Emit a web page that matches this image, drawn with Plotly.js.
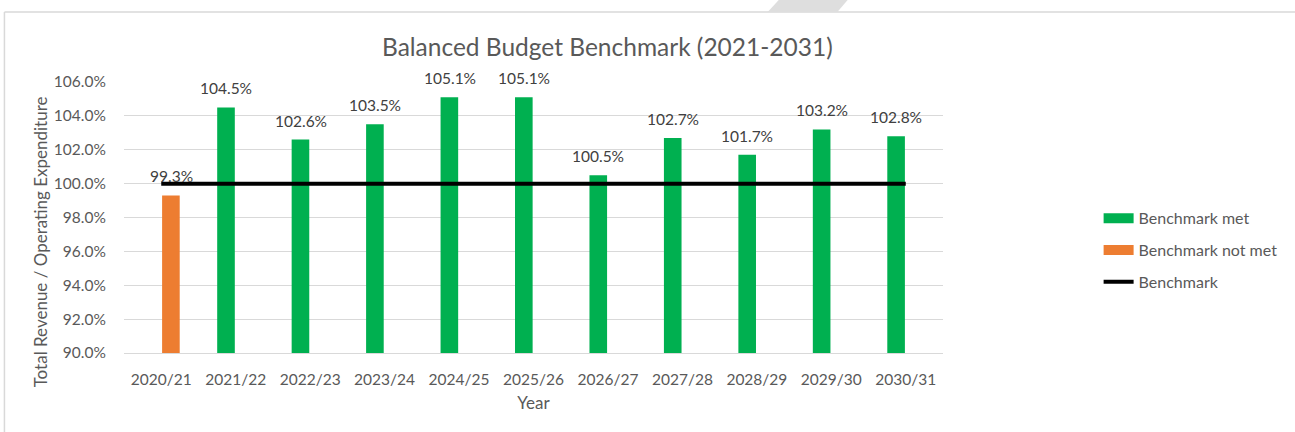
<!DOCTYPE html>
<html>
<head>
<meta charset="utf-8">
<script src="https://cdn.plot.ly/plotly-3.0.1.min.js"></script>
<style>
  body { margin: 0; background: #fff; }
  #chart { width: 1295px; height: 432px; }
</style>
</head>
<body>
<div id="chart"></div>
<script>
// chart values
const years = ['2020/21', '2021/22', '2022/23', '2023/24', '2024/25', '2025/26',
  '2026/27', '2027/28', '2028/29', '2029/30', '2030/31'];
const benchmarkMet = [0, 1.045, 1.026, 1.035, 1.051, 1.051, 1.005, 1.027, 1.017, 1.032, 1.028];
const benchmarkNotMet = [0.993, 0, 0, 0, 0, 0, 0, 0, 0, 0, 0];
const benchmark = [1, 1, 1, 1, 1, 1, 1, 1, 1, 1, 1];

const fontFam = 'Lato, "Open Sans", sans-serif';
const grey = '#595959';
const green = '#00B050';
const orange = '#ED7D31';

// data labels sit above each bar, shifted onto the bar's slot in the group
const labels = [];
function addLabels(values, shift) {
  values.forEach((v, i) => {
    if (!v) return;
    labels.push({
      x: years[i],
      y: v,
      xref: 'x',
      yref: 'y',
      text: `${(v * 100).toFixed(1)}%`,
      showarrow: false,
      yanchor: 'bottom',
      xshift: shift,
      yshift: 8,
      font: { family: fontFam, size: 15.5, color: '#404040' },
    });
  });
}
addLabels(benchmarkMet, -9.5);
addLabels(benchmarkNotMet, 10.5);

// y axis title as an annotation so it can sit where Excel put it
labels.push({
  xref: 'paper',
  yref: 'paper',
  x: -0.102,
  y: 0.41,
  xanchor: 'center',
  text: 'Total Revenue / Operating Expenditure',
  textangle: -90,
  showarrow: false,
  font: { family: fontFam, size: 17, color: grey },
});

const traces = [
  {
    x: years,
    y: benchmarkMet,
    name: 'Benchmark met',
    type: 'bar',
    showlegend: false,
    marker: { color: green },
  },
  {
    x: years,
    y: benchmarkNotMet,
    name: 'Benchmark not met',
    type: 'bar',
    showlegend: false,
    marker: { color: orange },
  },
  {
    x: years,
    y: benchmark,
    name: 'Benchmark',
    type: 'scatter',
    mode: 'lines',
    showlegend: false,
    line: { color: '#000000', width: 4 },
  },
  // legend-only entries, so the swatches are wide like Excel's
  {
    x: [null], y: [null], name: 'Benchmark met', type: 'scatter', mode: 'lines',
    legendgroup: 'a', line: { color: green, width: 11 },
  },
  {
    x: [null], y: [null], name: 'Benchmark not met', type: 'scatter', mode: 'lines',
    legendgroup: 'b', line: { color: orange, width: 11 },
  },
  {
    x: [null], y: [null], name: 'Benchmark', type: 'scatter', mode: 'lines',
    legendgroup: 'c', line: { color: '#000000', width: 4 },
  },
];

const layout = {
  width: 1295,
  height: 432,
  paper_bgcolor: '#ffffff',
  plot_bgcolor: '#ffffff',
  font: { family: fontFam, color: grey, size: 15 },
  margin: { l: 124, r: 349, t: 82, b: 79 },
  title: {
    text: 'Balanced Budget Benchmark (2021-2031)',
    font: { family: fontFam, size: 24.5, color: grey },
    x: 0.469,
    xanchor: 'center',
    y: 0.891,
    yanchor: 'middle',
  },
  barmode: 'group',
  bargap: 0.48,
  bargroupgap: 0.09,
  xaxis: {
    type: 'category',
    title: { text: 'Year', font: { size: 17, color: grey }, standoff: 10 },
    tickfont: { size: 15.5, color: grey },
    showline: true,
    linecolor: '#d9d9d9',
    linewidth: 1,
    ticks: 'outside',
    ticklen: 12,
    tickcolor: 'rgba(0,0,0,0)',
    automargin: false,
  },
  yaxis: {
    range: [0.9, 1.06],
    dtick: 0.02,
    tickformat: '.1%',
    tickfont: { size: 15.5, color: grey },
    gridcolor: '#d9d9d9',
    gridwidth: 1,
    zeroline: false,
    ticks: 'outside',
    ticklen: 14,
    tickcolor: 'rgba(0,0,0,0)',
    automargin: false,
  },
  showlegend: true,
  legend: {
    x: 1.19,
    xanchor: 'left',
    y: 0.56,
    yanchor: 'top',
    traceorder: 'grouped',
    tracegroupgap: 8,
    font: { size: 16, color: grey },
    bgcolor: 'rgba(0,0,0,0)',
  },
  annotations: labels,
  shapes: [
    // frame round the chart
    {
      type: 'line', xref: 'paper', yref: 'paper',
      x0: -0.146, x1: 1.43, y0: 1.258, y1: 1.258,
      line: { color: '#d9d9d9', width: 1.5 },
    },
    {
      type: 'line', xref: 'paper', yref: 'paper',
      x0: -0.146, x1: -0.146, y0: 1.258, y1: -0.3,
      line: { color: '#d9d9d9', width: 1.5 },
    },
    // grey tab at the top of the page
    {
      type: 'path', xref: 'paper', yref: 'paper',
      path: 'M 0.8017,1.31 L 0.8856,1.31 L 0.871,1.258 L 0.786,1.258 Z',
      fillcolor: '#dedede',
      line: { width: 0 },
    },
  ],
};

Plotly.newPlot('chart', traces, layout, { displayModeBar: false, staticPlot: true });
</script>
</body>
</html>
